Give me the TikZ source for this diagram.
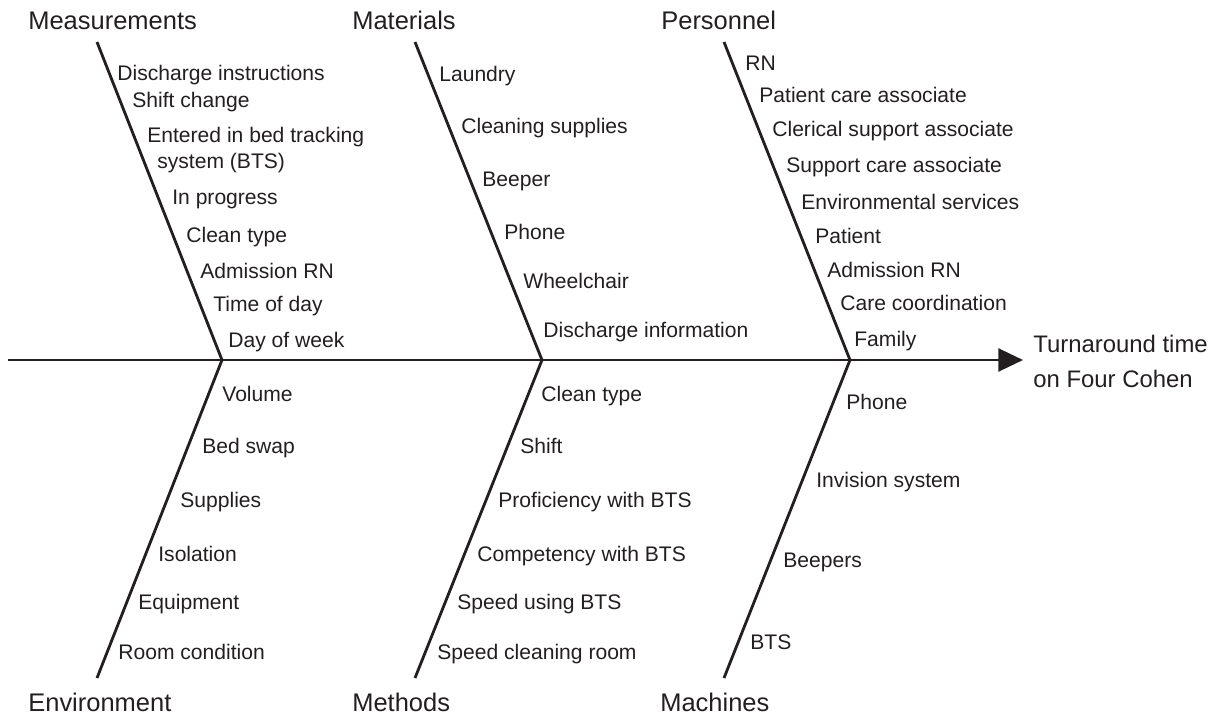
\documentclass[tikz,border=0pt]{standalone}
\usepackage{fontspec}
\setmainfont{Liberation Sans}
\usetikzlibrary{arrows.meta}
\definecolor{ink}{HTML}{231F20}

\begin{document}
\begin{tikzpicture}[x=0.02cm,y=-0.02cm,
    bone/.style={line width=1.6pt,draw=ink},
    cause/.style={anchor=base west,inner sep=0pt,font=\fontsize{14.5}{16}\selectfont,text=ink},
    effect/.style={anchor=base west,inner sep=0pt,font=\fontsize{13.6}{16}\selectfont,text=ink},
    item/.style={anchor=base west,inner sep=0pt,font=\fontsize{12}{14}\selectfont,text=ink}]
\useasboundingbox (0,0) rectangle (1228,717);

% spine
\coordinate (tail) at (8,360);
\coordinate (head) at (1023,360);
\draw[bone,-{Triangle[length=14pt,width=13pt]}] (tail) -- (head);
\node[effect] (effect1) at (1033,352) {Turnaround time};
\node[effect] (effect2) at (1033,387) {on Four Cohen};

% joints and bone ends
\coordinate (j1) at (222,360);
\coordinate (j2) at (542,360);
\coordinate (j3) at (850,360);
\coordinate (t1) at (97,42);
\coordinate (t2) at (415,42);
\coordinate (t3) at (724,42);
\coordinate (b1) at (97,678);
\coordinate (b2) at (415,678);
\coordinate (b3) at (724,678);
\draw[bone] (t1) -- (j1) -- (b1);
\draw[bone] (t2) -- (j2) -- (b2);
\draw[bone] (t3) -- (j3) -- (b3);

% cause names
\node[cause] (meas) at (28,29) {Measurements};
\node[cause] (mat) at (352,29) {Materials};
\node[cause] (pers) at (661,29) {Personnel};
\node[cause] (env) at (28,711) {Environment};
\node[cause] (meth) at (352,711) {Methods};
\node[cause] (mach) at (660,711) {Machines};

% measurements
\node[item] (meas1) at (117,80) {Discharge instructions};
\node[item] (meas2) at (132,107) {Shift change};
\node[item] (meas3) at (147,142) {Entered in bed tracking};
\node[item] (meas3b) at (157,168) {system (BTS)};
\node[item] (meas4) at (172,204) {In progress};
\node[item] (meas5) at (186,242) {Clean type};
\node[item] (meas6) at (200,278) {Admission RN};
\node[item] (meas7) at (213,311) {Time of day};
\node[item] (meas8) at (228,347) {Day of week};

% materials
\node[item] (mat1) at (439,81) {Laundry};
\node[item] (mat2) at (461,133) {Cleaning supplies};
\node[item] (mat3) at (482,186) {Beeper};
\node[item] (mat4) at (504,239) {Phone};
\node[item] (mat5) at (523,288) {Wheelchair};
\node[item] (mat6) at (543,337) {Discharge information};

% personnel
\node[item] (pers1) at (745,70) {RN};
\node[item] (pers2) at (759,102) {Patient care associate};
\node[item] (pers3) at (772,136) {Clerical support associate};
\node[item] (pers4) at (786,172) {Support care associate};
\node[item] (pers5) at (801,209) {Environmental services};
\node[item] (pers6) at (815,243) {Patient};
\node[item] (pers7) at (827,277) {Admission RN};
\node[item] (pers8) at (840,310) {Care coordination};
\node[item] (pers9) at (854,346) {Family};

% environment
\node[item] (env1) at (222,401) {Volume};
\node[item] (env2) at (202,453) {Bed swap};
\node[item] (env3) at (180,507) {Supplies};
\node[item] (env4) at (158,561) {Isolation};
\node[item] (env5) at (138,609) {Equipment};
\node[item] (env6) at (118,659) {Room condition};

% methods
\node[item] (meth1) at (541,401) {Clean type};
\node[item] (meth2) at (520,453) {Shift};
\node[item] (meth3) at (498,507) {Proficiency with BTS};
\node[item] (meth4) at (477,561) {Competency with BTS};
\node[item] (meth5) at (457,609) {Speed using BTS};
\node[item] (meth6) at (437,659) {Speed cleaning room};

% machines
\node[item] (mach1) at (846,409) {Phone};
\node[item] (mach2) at (816,487) {Invision system};
\node[item] (mach3) at (783,567) {Beepers};
\node[item] (mach4) at (750,649) {BTS};
\end{tikzpicture}
\end{document}
